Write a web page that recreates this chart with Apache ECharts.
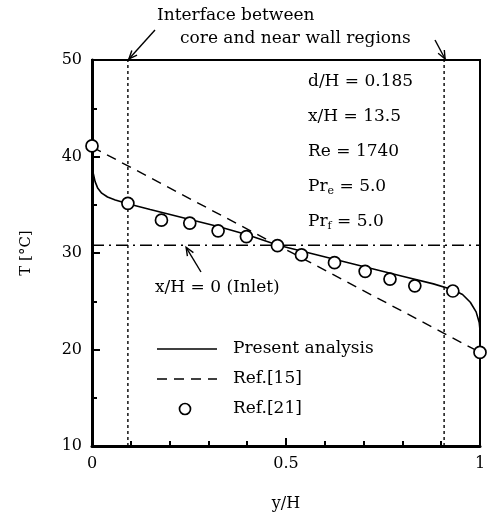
<!DOCTYPE html>
<html><head><meta charset="utf-8">
<script src="https://cdn.jsdelivr.net/npm/echarts@6/dist/echarts.min.js"></script>
<style>html,body{margin:0;padding:0;background:#fff}#c{width:489px;height:517px}</style>
</head><body><div id="c"></div>
<script>
// ---- data ----
const presentAnalysis = [[0,39.2],[0.003,38.3],[0.008,37.4],[0.015,36.7],[0.025,36.2],[0.04,35.8],[0.06,35.5],[0.0925,35.1],[0.15,34.5],[0.25,33.5],[0.33,32.7],[0.4,31.9],[0.48,30.8],[0.55,30.1],[0.64,29.2],[0.72,28.4],[0.8,27.6],[0.88,26.8],[0.93,26.2],[0.955,25.7],[0.975,24.9],[0.99,23.9],[0.998,22.8],[1,22.0]];
const ref15 = [[0,41.0],[1,19.7]];
const ref21 = [[0,41.1],[0.0925,35.15],[0.179,33.4],[0.252,33.1],[0.325,32.3],[0.398,31.7],[0.478,30.76],[0.54,29.8],[0.625,29.0],[0.704,28.1],[0.768,27.3],[0.832,26.6],[0.93,26.06],[1,19.7]];
const inletT = 30.8;
const interfaceX = [0.0925, 0.9075];
const xTicks = [0, 0.5, 1];
const yTicks = [10, 20, 30, 40, 50];
const params = ['d/H = 0.185','x/H = 13.5','Re = 1740','Pr_e = 5.0','Pr_f = 5.0'];

const FONT = 'DejaVu Serif';
const chart = echarts.init(document.getElementById('c'));
const grid = {left:92, right:9, top:60, bottom:71};
const series = [
  {type:'line', data:presentAnalysis, showSymbol:false, lineStyle:{color:'#000',width:1.6}, z:5},
  {type:'line', data:ref15, showSymbol:false, lineStyle:{color:'#000',width:1.4,type:[10,7]}, z:4},
  {type:'line', data:[[0,inletT],[1,inletT]], showSymbol:false, lineStyle:{color:'#000',width:1.4,type:[12,5,2,5]}, z:3},
  {type:'line', data:[[interfaceX[0],10],[interfaceX[0],50]], showSymbol:false, lineStyle:{color:'#000',width:1.4,type:[3,3]}, z:3},
  {type:'line', data:[[interfaceX[1],10],[interfaceX[1],50]], showSymbol:false, lineStyle:{color:'#000',width:1.4,type:[3,3]}, z:3},
  {type:'scatter', data:ref21, symbol:'circle', symbolSize:12, itemStyle:{color:'#fff',borderColor:'#000',borderWidth:1.7,opacity:1}, z:10, clip:false}
];
chart.setOption({
  animation:false,
  grid:Object.assign({show:true, borderColor:'#000', borderWidth:2}, grid),
  xAxis:{type:'value', min:0, max:1, interval:0.5,
    axisLine:{lineStyle:{color:'#000',width:3}},
    axisTick:{inside:true,length:8,lineStyle:{color:'#000',width:2}},
    minorTick:{show:true,splitNumber:5,length:5,lineStyle:{color:'#000',width:2}},
    splitLine:{show:false},
    axisLabel:{color:'#000',fontFamily:FONT,fontSize:16,margin:10,
      formatter:v=>xTicks.includes(v)?String(v):''},
    name:'y/H', nameLocation:'middle', nameGap:50,
    nameTextStyle:{color:'#000',fontFamily:FONT,fontSize:16}},
  yAxis:{type:'value', min:10, max:50, interval:10,
    axisLine:{lineStyle:{color:'#000',width:3}},
    axisTick:{inside:true,length:8,lineStyle:{color:'#000',width:2}},
    minorTick:{show:true,splitNumber:2,length:5,lineStyle:{color:'#000',width:2}},
    splitLine:{show:false},
    axisLabel:{color:'#000',fontFamily:FONT,fontSize:16,margin:10,
      formatter:v=>yTicks.includes(v)?String(v):''},
    name:'T [°C]', nameLocation:'middle', nameGap:58, nameRotate:90,
    nameTextStyle:{color:'#000',fontFamily:FONT,fontSize:15}},
  series:series
});

function px(p){return chart.convertToPixel({gridIndex:0}, p);}
const FS = '17px "'+FONT+'"';
const txt = (x,y,text,extra)=>Object.assign({type:'text',x:x,y:y,style:Object.assign({text:text,fill:'#000',font:FS,textVerticalAlign:'middle'},extra||{})});
function arrow(x1,y1,x2,y2){
  const a=Math.atan2(y2-y1,x2-x1), L=9, w=0.4;
  return [
    {type:'line',shape:{x1:x1,y1:y1,x2:x2,y2:y2},style:{stroke:'#000',lineWidth:1.4}},
    {type:'polyline',shape:{points:[[x2-L*Math.cos(a-w),y2-L*Math.sin(a-w)],[x2,y2],[x2-L*Math.cos(a+w),y2-L*Math.sin(a+w)]]},style:{stroke:'#000',lineWidth:1.4,fill:null}}
  ];
}
const tipL = px([interfaceX[0],50]), tipR = px([interfaceX[1],50]);
const tipIn = px([0.24,inletT]);
const g = [];
g.push(txt(157,16,'Interface between'));
g.push(txt(180,39,'core and near wall regions'));
g.push(...arrow(155,30,tipL[0]+1,tipL[1]-1));
g.push(...arrow(435,40,tipR[0]+1,tipR[1]-1));
g.push(...arrow(201,272,tipIn[0]+1,tipIn[1]+2));
g.push(txt(155,288,'x/H = 0 (Inlet)'));
// parameter block
const rich = {n:{fontSize:17,fontFamily:FONT,fill:'#000'}, s:{fontSize:11,fontFamily:FONT,fill:'#000',padding:[9,0,0,0]}};
params.forEach((p,i)=>{
  let t;
  if(p.indexOf('_')>=0){const m=p.match(/^(\w+)_(\w)(.*)$/); t='{n|'+m[1]+'}{s|'+m[2]+'}{n|'+m[3]+'}';}
  else t='{n|'+p+'}';
  g.push({type:'text',x:308,y:82+i*35,style:{text:t,rich:rich,fill:'#000',font:FS,textVerticalAlign:'middle'}});
});
// legend
g.push({type:'line',shape:{x1:157,y1:349,x2:217,y2:349},style:{stroke:'#000',lineWidth:1.6}});
g.push(txt(233,349,'Present analysis'));
g.push({type:'line',shape:{x1:157,y1:379,x2:217,y2:379},style:{stroke:'#000',lineWidth:1.4,lineDash:[10,7]}});
g.push(txt(233,379,'Ref.[15]'));
g.push({type:'circle',shape:{cx:185,cy:409,r:5.5},style:{stroke:'#000',lineWidth:1.7,fill:'#fff'}});
g.push(txt(233,409,'Ref.[21]'));
chart.setOption({graphic:g});
</script></body></html>
